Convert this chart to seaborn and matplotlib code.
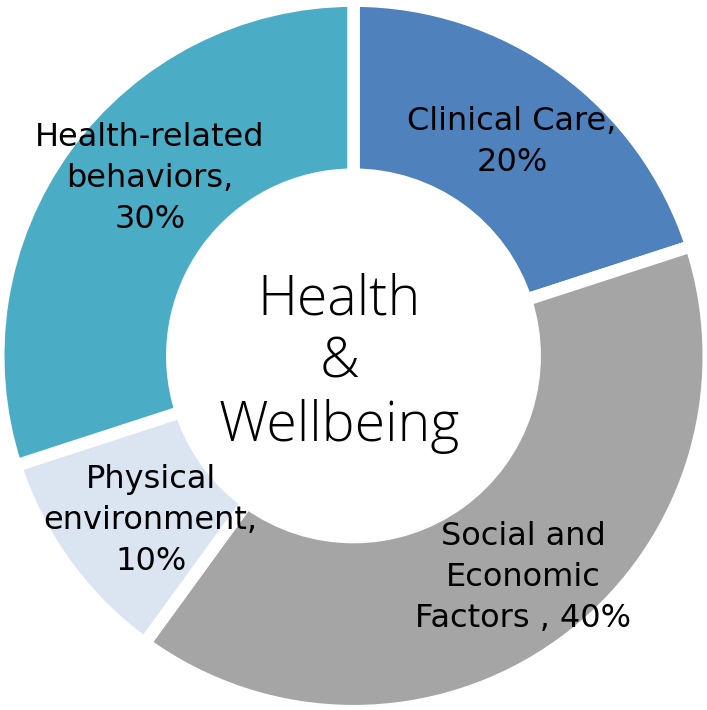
import numpy as np
import seaborn as sns
import matplotlib.pyplot as plt

# data
labels = ['Clinical Care,\n20%',
          'Social and\nEconomic\nFactors , 40%',
          'Physical\nenvironment,\n10%',
          'Health-related\nbehaviors,\n30%']
shares = [20, 40, 10, 30]
colors = ['#4F81BD', '#A5A5A5', '#DBE5F1', '#4BACC6']

sns.set_theme(style='white')
plt.rcParams['font.family'] = ['DejaVu Sans']

fig = plt.figure(figsize=(7.07, 7.10), dpi=100)
ax = fig.add_axes([0, 0, 1, 1])

wedges, _ = ax.pie(shares, colors=colors, startangle=90, counterclock=False,
                   radius=1.0,
                   wedgeprops=dict(width=0.49, edgecolor='white', linewidth=9))

# label positions along the wedges, nudged a bit like the original
nudge = [-0.5, 1.5, 3, -5]
dist = [0.75, 0.785, 0.735, 0.76]
for w, lab, d, n in zip(wedges, labels, dist, nudge):
    ang = np.deg2rad((w.theta1 + w.theta2) / 2 + n)
    ax.text(d * np.cos(ang), d * np.sin(ang), lab,
            ha='center', va='center', fontsize=23, color='black', linespacing=1.42)

ax.text(-0.04, -0.02, 'Health\n&\nWellbeing', ha='center', va='center',
        fontsize=40, fontweight='light', color='black', linespacing=1.2,
        family=['Open Sans', 'DejaVu Sans'])

ax.set_xlim(-0.995, 0.995)
ax.set_ylim(-0.995, 1.0)
ax.set_aspect('equal')
ax.axis('off')

fig.savefig('out.png', dpi=100, facecolor='white')
